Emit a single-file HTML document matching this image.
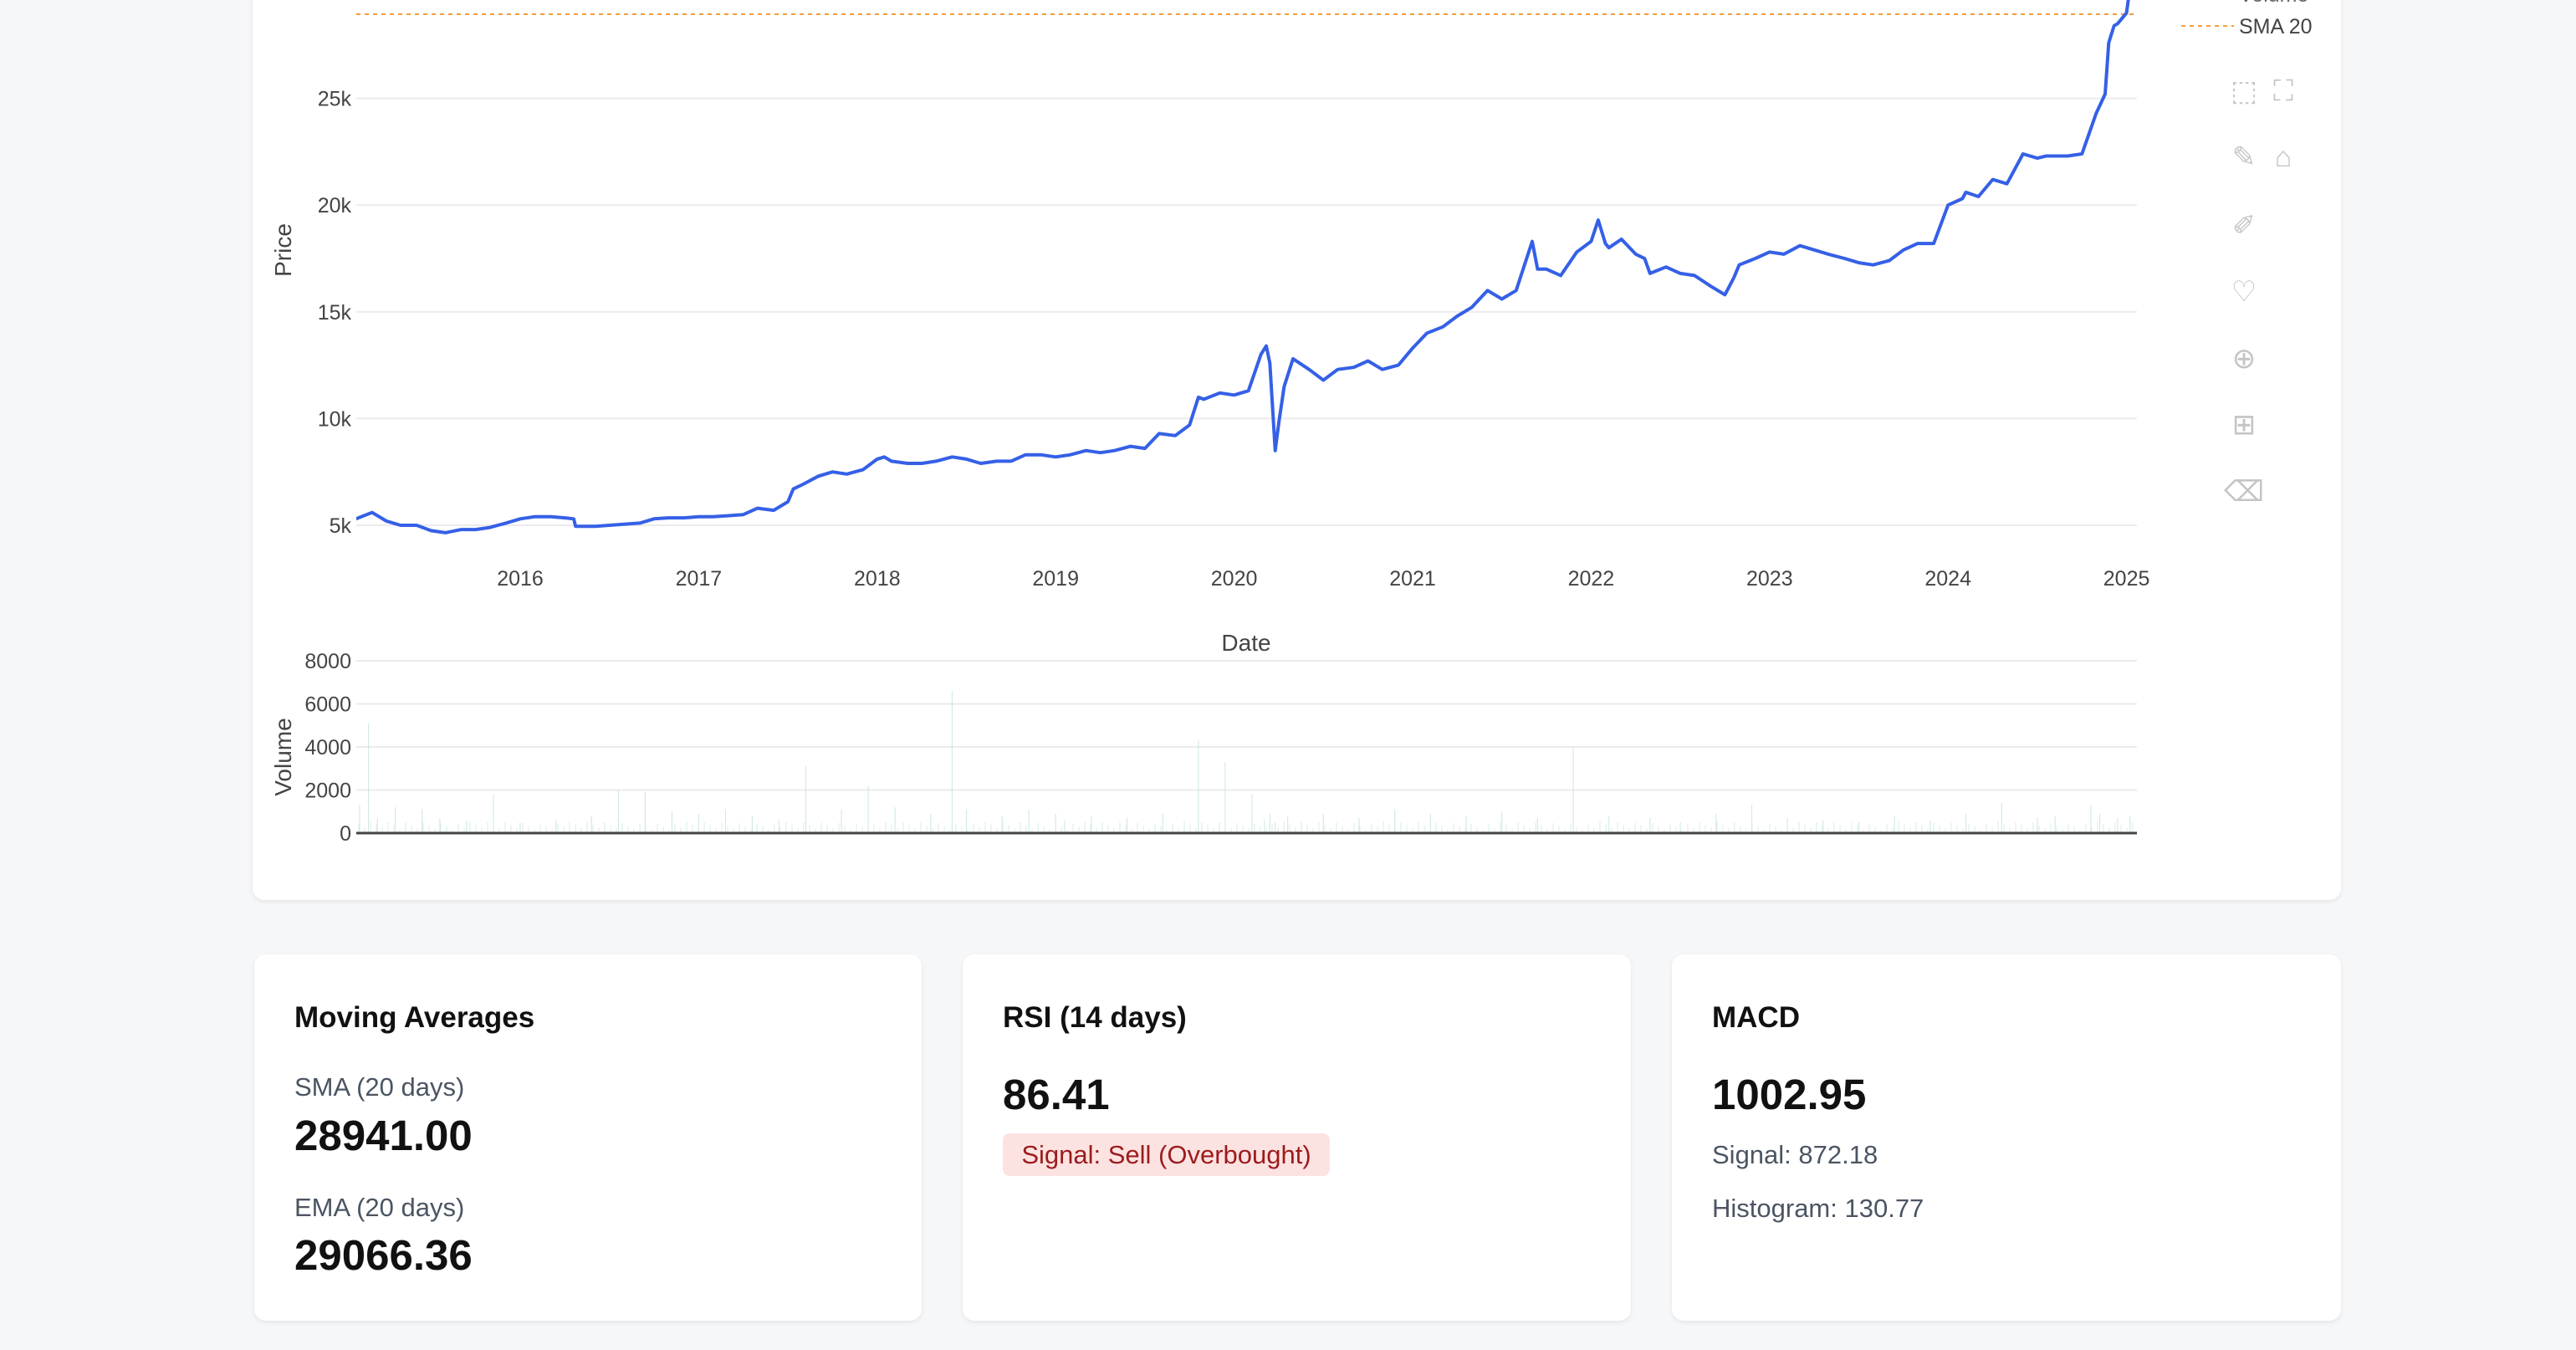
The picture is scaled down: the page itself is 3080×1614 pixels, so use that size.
<!DOCTYPE html>
<html><head><meta charset="utf-8">
<style>
html,body{margin:0;padding:0;width:3080px;height:1614px;overflow:hidden;background:#f6f7f9;font-family:"Liberation Sans",Arial,sans-serif;}
.card{position:absolute;background:#fff;border-radius:14px;box-shadow:0 2px 6px rgba(0,0,0,0.08);}
.t{position:absolute;white-space:nowrap;}
.title{font-size:35px;font-weight:bold;color:#111;}
.lbl{font-size:31px;color:#4b5563;}
.big{font-size:51px;font-weight:bold;color:#111;}
</style></head>
<body>
<div class="card" style="left:302px;top:-20px;width:2497px;height:1096px;border-radius:0 0 14px 14px;"></div>
<svg id="chart" width="3080" height="1100" style="position:absolute;left:0;top:0" xmlns="http://www.w3.org/2000/svg"></svg>

<div class="card" style="left:304px;top:1141px;width:798px;height:438px;">
  <div class="t title" style="left:48px;top:56px;">Moving Averages</div>
  <div class="t lbl" style="left:48px;top:141px;">SMA (20 days)</div>
  <div class="t big" style="left:48px;top:187px;">28941.00</div>
  <div class="t lbl" style="left:48px;top:285px;">EMA (20 days)</div>
  <div class="t big" style="left:48px;top:330px;">29066.36</div>
</div>
<div class="card" style="left:1151px;top:1141px;width:799px;height:438px;">
  <div class="t title" style="left:48px;top:56px;">RSI (14 days)</div>
  <div class="t big" style="left:48px;top:138px;">86.41</div>
  <div class="t" style="left:48px;top:214px;width:391px;height:51px;background:#fde2e2;border-radius:8px;color:#9b1c1c;font-size:31px;line-height:51px;text-align:center;">Signal: Sell (Overbought)</div>
</div>
<div class="card" style="left:1999px;top:1141px;width:800px;height:438px;">
  <div class="t title" style="left:48px;top:56px;">MACD</div>
  <div class="t big" style="left:48px;top:138px;">1002.95</div>
  <div class="t lbl" style="left:48px;top:222px;">Signal: 872.18</div>
  <div class="t lbl" style="left:48px;top:286px;">Histogram: 130.77</div>
</div>

<script>
const dates = [2015.08,2015.17,2015.25,2015.33,2015.42,2015.5,2015.58,2015.67,2015.75,2015.83,2015.92,
2016.0,2016.08,2016.17,2016.25,2016.3,2016.31,2016.42,2016.5,2016.58,2016.67,2016.75,2016.83,2016.92,
2017.0,2017.08,2017.17,2017.25,2017.33,2017.42,2017.5,2017.53,2017.58,2017.67,2017.75,2017.83,2017.92,
2018.0,2018.04,2018.08,2018.17,2018.25,2018.33,2018.42,2018.5,2018.58,2018.67,2018.75,2018.83,2018.92,
2019.0,2019.08,2019.17,2019.25,2019.33,2019.42,2019.5,2019.58,2019.67,2019.75,2019.8,2019.83,2019.92,
2020.0,2020.08,2020.15,2020.18,2020.2,2020.23,2020.25,2020.28,2020.33,2020.42,2020.5,2020.58,2020.67,2020.75,2020.83,2020.92,
2021.0,2021.08,2021.17,2021.25,2021.33,2021.42,2021.5,2021.58,2021.67,2021.7,2021.75,2021.83,2021.92,
2022.0,2022.04,2022.08,2022.1,2022.17,2022.25,2022.3,2022.33,2022.42,2022.5,2022.58,2022.67,2022.75,2022.8,2022.83,2022.92,
2023.0,2023.08,2023.17,2023.25,2023.33,2023.42,2023.5,2023.58,2023.67,2023.75,2023.83,2023.92,
2024.0,2024.08,2024.1,2024.17,2024.25,2024.33,2024.42,2024.5,2024.55,2024.58,2024.67,2024.75,2024.83,2024.88,
2024.9,2024.93,2024.95,2025.0,2025.04,2025.06,2025.08];
const prices = [5300,5600,5200,5000,5000,4750,4650,4800,4800,4900,5100,
5300,5400,5400,5350,5300,4950,4950,5000,5050,5100,5300,5350,5350,
5400,5400,5450,5500,5800,5700,6100,6700,6900,7300,7500,7400,7600,
8100,8200,8000,7900,7900,8000,8200,8100,7900,8000,8000,8300,8300,
8200,8300,8500,8400,8500,8700,8600,9300,9200,9700,11000,10900,11200,
11100,11300,13000,13400,12600,8500,9800,11500,12800,12300,11800,12300,12400,12700,12300,
12500,13300,14000,14300,14800,15200,16000,15600,16000,18300,17000,17000,16700,
17800,18300,19300,18200,18000,18400,17700,17500,16800,17100,16800,16700,16200,15800,16600,
17200,17500,17800,17700,18100,17900,17700,17500,17300,17200,17400,17900,
18200,18200,20000,20300,20600,20400,21200,21000,22400,22200,22300,22300,22300,22400,
24300,25200,27600,28400,28500,29000,31500];
const smaValue = 28941;
const priceTicks = [5000,10000,15000,20000,25000];
const priceTickLabels = ["5k","10k","15k","20k","25k"];
const yearTicks = [2016,2017,2018,2019,2020,2021,2022,2023,2024,2025];
const volDates = [2015.1,2015.15,2015.2,2015.3,2015.45,2015.55,2015.7,2015.85,2016.0,2016.2,2016.4,2016.55,2016.7,2016.85,2017.0,2017.15,2017.3,2017.45,2017.6,2017.8,2017.95,2018.1,2018.3,2018.42,2018.5,2018.7,2018.85,2019.0,2019.05,2019.2,2019.4,2019.6,2019.8,2019.95,2020.1,2020.17,2020.2,2020.23,2020.3,2020.5,2020.7,2020.9,2021.1,2021.3,2021.5,2021.7,2021.9,2022.1,2022.33,2022.5,2022.7,2022.9,2023.1,2023.3,2023.5,2023.7,2023.9,2024.1,2024.3,2024.5,2024.6,2024.8,2024.85,2024.95,2025.02];
const volumes = [1300,5100,700,1200,1100,700,600,1800,500,600,800,2000,1900,1000,900,1100,800,600,3100,1100,2200,1200,900,6600,1100,800,1100,900,600,800,700,900,4300,3300,1800,600,900,500,800,900,700,1100,900,800,1000,700,4000,800,700,500,900,1300,700,600,500,800,600,900,1400,700,800,1300,900,700,800];
const volTicks = [0,2000,4000,6000,8000];

const svg = document.getElementById('chart');
const NS = 'http://www.w3.org/2000/svg';
const X0=426, X1=2555, XY0=622, XPY=213.4;
const xs = d => XY0 + (d-2016)*XPY;
const yp = v => 628 - (v-5000)*0.02552;
const yv = v => 996 - v*0.02575;
function mk(tag, attrs){const e=document.createElementNS(NS,tag);for(const k in attrs)e.setAttribute(k,attrs[k]);svg.appendChild(e);return e;}
function txt(s,attrs){const e=mk('text',attrs);e.textContent=s;return e;}

priceTicks.forEach((v,i)=>{
  const g=mk('line',{x1:X0,x2:X1,y1:yp(v),y2:yp(v),stroke:'#ebebeb','stroke-width':2});
  
  
  const t=txt(priceTickLabels[i],{x:X0-6,y:yp(v)+9,'text-anchor':'end','font-size':25,fill:'#444'});
  
  
});
yearTicks.forEach(y=>{
  const t=txt(String(y),{x:xs(y),y:700,'text-anchor':'middle','font-size':25,fill:'#444'});
  
  
});
const sma=mk('line',{x1:X0,x2:X1,y1:yp(smaValue),y2:yp(smaValue),stroke:'#f39c3c','stroke-width':2,'stroke-dasharray':'5,5'});


const cp=mk('clipPath',{id:'pc'});
const cr=document.createElementNS(NS,'rect');cr.setAttribute('x',X0);cr.setAttribute('y',0);cr.setAttribute('width',X1-X0+4);cr.setAttribute('height',700);cp.appendChild(cr);
const pts=dates.map((d,i)=>xs(d).toFixed(1)+','+yp(prices[i]).toFixed(1)).join(' ');
const pl=mk('polyline',{points:pts,fill:'none',stroke:'#3560e6','stroke-width':4,'stroke-linejoin':'round','clip-path':'url(#pc)'});


const pt=txt('Price',{x:0,y:0,transform:'translate(348,299) rotate(-90)','text-anchor':'middle','font-size':28,fill:'#444'});


const dt=txt('Date',{x:1490,y:778,'text-anchor':'middle','font-size':28,fill:'#444'});


volTicks.forEach(v=>{
  const g=mk('line',{x1:X0,x2:X1,y1:yv(v),y2:yv(v),stroke:'#ebebeb','stroke-width':2});
  
  
  const t=txt(String(v),{x:X0-6,y:yv(v)+9,'text-anchor':'end','font-size':25,fill:'#444'});
  
  
});
volDates.forEach((d,i)=>{
  const b=mk('line',{x1:xs(d),x2:xs(d),y1:yv(0),y2:yv(volumes[i]),stroke:'#bfe3dc','stroke-width':1.2,opacity:0.7});
  
  
});
for(let x=X0+3;x<X1;x+=7){
  const b=mk('line',{x1:x,x2:x,y1:yv(0),y2:yv(150+((x*37)%400)),stroke:'#d5ece7','stroke-width':1});
  
  
}
const zl=mk('line',{x1:X0,x2:X1,y1:yv(0),y2:yv(0),stroke:'#444','stroke-width':3});


const vt=txt('Volume',{x:0,y:0,transform:'translate(348,905) rotate(-90)','text-anchor':'middle','font-size':28,fill:'#444'});


const lv=txt('Volume',{x:2677,y:2,'font-size':25,fill:'#666'});


const ll=mk('line',{x1:2608,x2:2671,y1:31,y2:31,stroke:'#f39c3c','stroke-width':2,'stroke-dasharray':'5,5'});


const ls=txt('SMA 20',{x:2677,y:40,'font-size':25,fill:'#444'});


const icons=[[2683,108,'⬚'],[2730,108,'⛶'],[2683,187,'✎'],[2730,187,'⌂'],[2683,269,'✐'],[2683,348,'♡'],[2683,428,'⊕'],[2683,507,'⊞'],[2683,587,'⌫']];
icons.forEach(ic=>{
  const t=txt(ic[2],{x:ic[0],y:ic[1]+12,'text-anchor':'middle','font-size':34,fill:'#c4c4c4'});
  
  
});
</script>
</body></html>
